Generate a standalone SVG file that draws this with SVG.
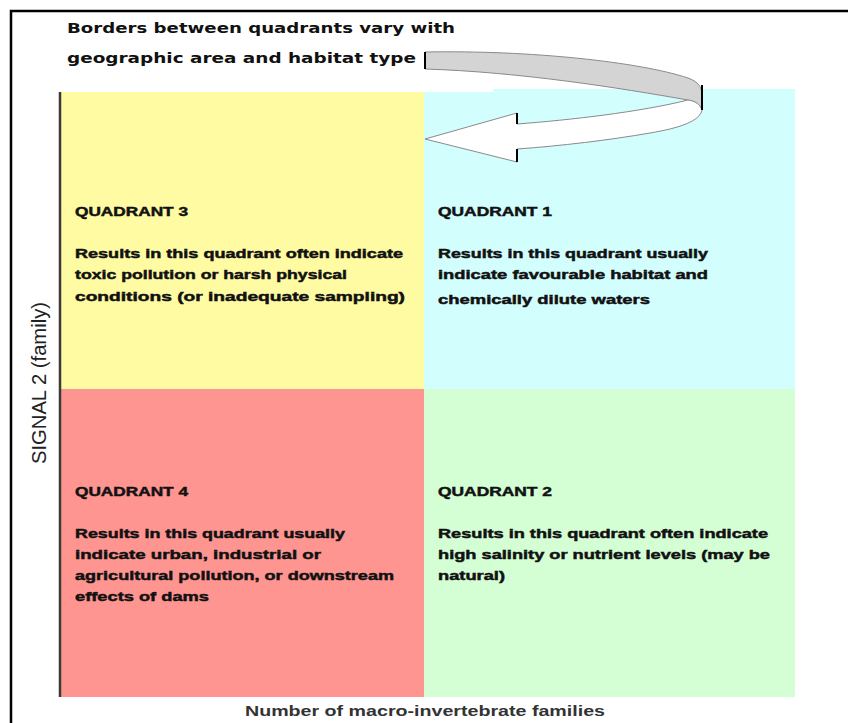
<svg xmlns="http://www.w3.org/2000/svg" width="848" height="723" viewBox="0 0 848 723">
<style>
.q{font-family:"Liberation Sans",Arial,sans-serif;font-weight:bold;font-size:12.5px;fill:#111;stroke:#111;stroke-width:0.45}
.t{font-family:"DejaVu Sans","Comic Sans MS",sans-serif;font-weight:bold;font-size:13.5px;fill:#111}
.ax{font-family:"Liberation Sans",Arial,sans-serif;font-size:15px;fill:#222}
</style>
<rect x="0" y="0" width="848" height="723" fill="#fff"/>
<path d="M11,723 V11 H848" fill="none" stroke="#000" stroke-width="2.5"/>
<g id="title">
<text class="t" x="67" y="33" textLength="388" lengthAdjust="spacingAndGlyphs">Borders between quadrants vary with</text>
<text class="t" x="67" y="63" textLength="349" lengthAdjust="spacingAndGlyphs">geographic area and habitat type</text>
</g>
<g id="quadrant3">
<rect x="61" y="92" width="363" height="297" fill="#FFFBA2"/>
<text class="q" x="75" y="216" textLength="113" lengthAdjust="spacingAndGlyphs">QUADRANT 3</text>
<text class="q" x="75" y="258" textLength="328" lengthAdjust="spacingAndGlyphs">Results in this quadrant often indicate</text>
<text class="q" x="75" y="279" textLength="272" lengthAdjust="spacingAndGlyphs">toxic pollution or harsh physical</text>
<text class="q" x="75" y="301" textLength="330" lengthAdjust="spacingAndGlyphs">conditions (or inadequate sampling)</text>
</g>
<g id="quadrant1">
<rect x="424" y="89" width="371" height="300" fill="#D2FEFE"/>
<rect x="424" y="88" width="69" height="4" fill="#fff"/>
<text class="q" x="438" y="216" textLength="114" lengthAdjust="spacingAndGlyphs">QUADRANT 1</text>
<text class="q" x="438" y="258" textLength="270" lengthAdjust="spacingAndGlyphs">Results in this quadrant usually</text>
<text class="q" x="438" y="279" textLength="270" lengthAdjust="spacingAndGlyphs">indicate favourable habitat and</text>
<text class="q" x="438" y="304" textLength="212" lengthAdjust="spacingAndGlyphs">chemically dilute waters</text>
</g>
<g id="quadrant4">
<rect x="61" y="389" width="363" height="308" fill="#FF9591"/>
<text class="q" x="75" y="496" textLength="113" lengthAdjust="spacingAndGlyphs">QUADRANT 4</text>
<text class="q" x="75" y="538" textLength="270" lengthAdjust="spacingAndGlyphs">Results in this quadrant usually</text>
<text class="q" x="75" y="559" textLength="246" lengthAdjust="spacingAndGlyphs">indicate urban, industrial or</text>
<text class="q" x="75" y="580" textLength="319" lengthAdjust="spacingAndGlyphs">agricultural pollution, or downstream</text>
<text class="q" x="75" y="601" textLength="134" lengthAdjust="spacingAndGlyphs">effects of dams</text>
</g>
<g id="quadrant2">
<rect x="424" y="389" width="371" height="308" fill="#D4FED4"/>
<text class="q" x="438" y="496" textLength="114" lengthAdjust="spacingAndGlyphs">QUADRANT 2</text>
<text class="q" x="438" y="538" textLength="330" lengthAdjust="spacingAndGlyphs">Results in this quadrant often indicate</text>
<text class="q" x="438" y="559" textLength="332" lengthAdjust="spacingAndGlyphs">high salinity or nutrient levels (may be</text>
<text class="q" x="438" y="580" textLength="67" lengthAdjust="spacingAndGlyphs">natural)</text>
</g>
<g id="axes">
<line x1="60" y1="92" x2="60" y2="697" stroke="#3a3a3a" stroke-width="2.5"/>
<text class="ax" transform="translate(46,383) rotate(-90) scale(1,1.3)" x="-81" y="0" textLength="162" lengthAdjust="spacingAndGlyphs">SIGNAL 2 (family)</text>
<text class="ax" x="245" y="716" textLength="360" lengthAdjust="spacingAndGlyphs" style="font-weight:bold;fill:#333">Number of macro-invertebrate families</text>
</g>
<g id="connectors">
<path d="M425,52 C530,50 640,62 688,78 C699,82 702,88 702,95 L702,110 C700,105 695,101 688,100 C620,88 520,72 425,69 Z" fill="#D4D4D4" stroke="#8a8a8a" stroke-width="1"/>
<path d="M702,110 C700,121 680,128 650,133 C610,140 560,146 517,149 L517,162 L425,139 L517,113 L517,124 C570,120 640,112 688,100 C695,101 700,104 702,110 Z" fill="#fff" stroke="#8a8a8a" stroke-width="1"/>
<g stroke="#000" stroke-width="2">
<line x1="425" y1="52" x2="425" y2="69"/>
<line x1="702" y1="85" x2="702" y2="110"/>
<line x1="517" y1="113" x2="517" y2="124"/>
<line x1="517" y1="149" x2="517" y2="162"/>
</g>
</g>
</svg>
